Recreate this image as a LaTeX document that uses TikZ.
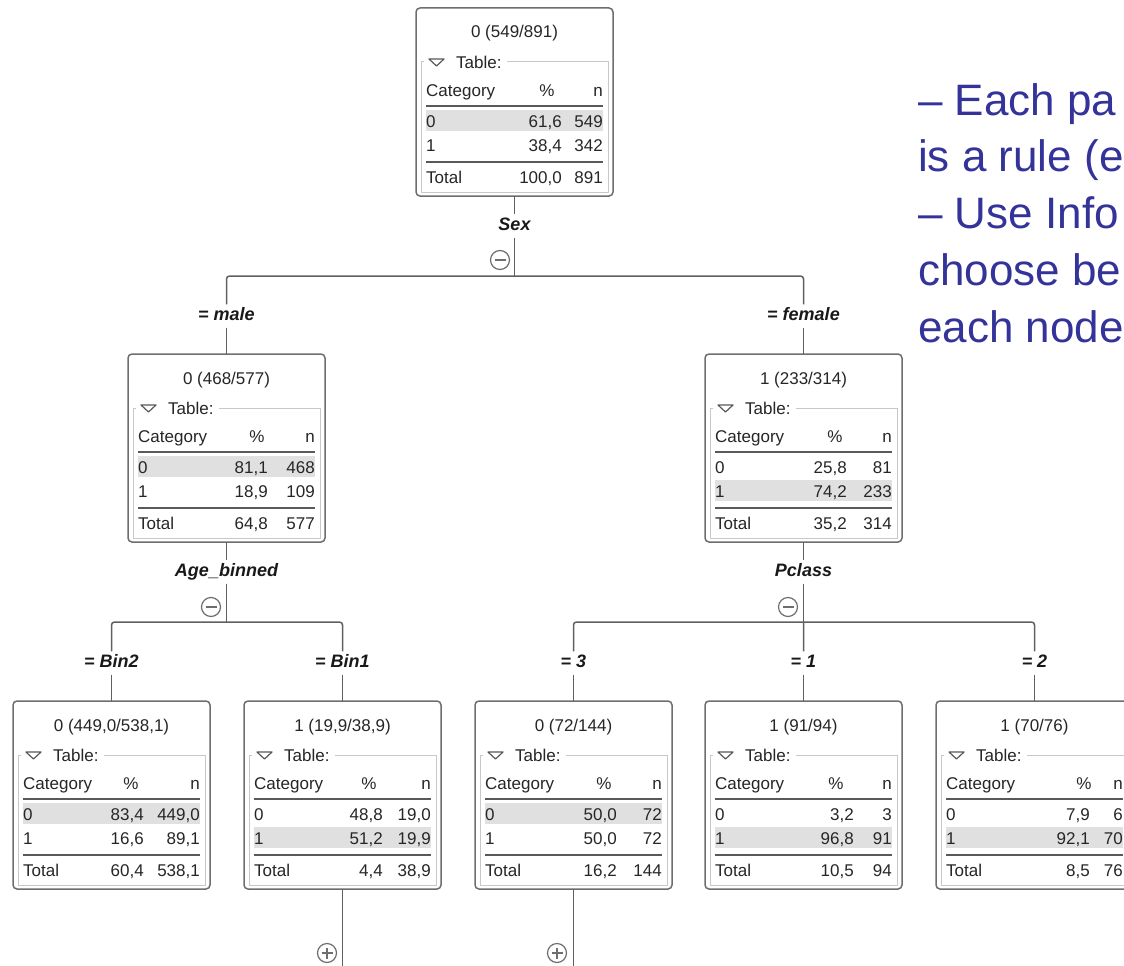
\documentclass[tikz,border=0pt]{standalone}
\usepackage{fontspec}
\setmainfont{Liberation Sans}

\definecolor{boxgray}{RGB}{110,110,110}
\definecolor{linegray}{RGB}{96,96,96}
\definecolor{framegray}{RGB}{200,200,200}
\definecolor{rowgray}{RGB}{224,224,224}
\definecolor{slideblue}{RGB}{51,51,153}

\newcommand{\cellfont}{\fontsize{17}{20}\selectfont}
\newcommand{\splitfont}{\fontsize{18}{21}\selectfont\bfseries\itshape}

% box, title and table head of one tree node
\newcommand{\dtnode}[5]{%
  \node[dtbox] (#1) at (#2+98.5,#3+94) {};
  \begin{scope}[shift={(#1.north west)}]
    \draw[groupframe] (5,54) rectangle (192,184);
    \fill[white] (8,45) rectangle (91,63);
    \draw[tabrule, line join=round] (13,51) -- (28,51) -- (20.5,58) -- cycle;
    \node[cell, anchor=base west] (#1-tab) at (40,60) {Table:};
    \node[cell, anchor=base] (#1-title) at (98.5,30) {#4};
    \node[cell, anchor=base west] (#1-cat) at (10,88) {Category};
    \node[cell, anchor=base] (#1-pct) at (#5,88) {\%};
    \node[cell, anchor=base east] (#1-n) at (187,88) {n};
    \draw[tabrule] (10,98) -- (187,98) (10,154) -- (187,154);
  \end{scope}}

% the three rows of the table
\newcommand{\dtrows}[9]{%
  \begin{scope}[shift={(#1.north west)}]
    \fill[rowgray] (10,102+24*#2) rectangle (187,123+24*#2);
    \node[cell, anchor=base west] (#1-c0) at (10,119) {0};
    \node[cell, anchor=base east] (#1-p0) at (#3,119) {#4};
    \node[cell, anchor=base east] (#1-n0) at (187,119) {#5};
    \node[cell, anchor=base west] (#1-c1) at (10,143) {1};
    \node[cell, anchor=base east] (#1-p1) at (#3,143) {#6};
    \node[cell, anchor=base east] (#1-n1) at (187,143) {#7};
    \node[cell, anchor=base west] (#1-ct) at (10,175) {Total};
    \node[cell, anchor=base east] (#1-pt) at (#3,175) {#8};
    \node[cell, anchor=base east] (#1-nt) at (187,175) {#9};
  \end{scope}}

\begin{document}
\begin{tikzpicture}[x=1pt, y={(0pt,-1pt)},
    dtbox/.style={draw=boxgray, line width=1.5pt, rounded corners=4pt, fill=white,
      minimum width=197pt, minimum height=188pt, inner sep=0pt, outer sep=0pt},
    groupframe/.style={draw=framegray, line width=1pt},
    tabrule/.style={draw=black!65, line width=1.2pt},
    cell/.style={inner sep=0pt, font=\cellfont, text=black!85},
    branch/.style={draw=linegray, line width=1.5pt, rounded corners=3pt},
    splitlab/.style={font=\splitfont, text=black!90, inner xsep=2pt, inner ysep=3pt,
      text height=13pt, text depth=4pt},
    togglemark/.style={circle, draw=boxgray, line width=1.2pt, minimum size=19pt, inner sep=0pt},
    minusmark/.style={togglemark, path picture={
      \draw[boxgray, line width=1.2pt] ([xshift=-5.5pt]path picture bounding box.center)
        -- ([xshift=5.5pt]path picture bounding box.center);}},
    plusmark/.style={togglemark, path picture={
      \draw[boxgray, line width=1.2pt] ([xshift=-5.5pt]path picture bounding box.center)
        -- ([xshift=5.5pt]path picture bounding box.center)
        ([yshift=-5.5pt]path picture bounding box.center)
        -- ([yshift=5.5pt]path picture bounding box.center);}}]
    \useasboundingbox (0,0) rectangle (1124,966);

    % Root
    \dtnode{root}{416}{8}{0 (549/891)}{131}
    \dtrows{root}{0}{146}{61,6}{549}{38,4}{342}{100,0}{891}

    % Sex = male
    \dtnode{male}{128}{354}{0 (468/577)}{129}
    \dtrows{male}{0}{140}{81,1}{468}{18,9}{109}{64,8}{577}

    % Sex = female
    \dtnode{female}{705}{354}{1 (233/314)}{130}
    \dtrows{female}{1}{142}{25,8}{81}{74,2}{233}{35,2}{314}

    % Age_binned leaves
    \dtnode{bin2}{13}{701}{0 (449,0/538,1)}{118}
    \dtrows{bin2}{0}{131}{83,4}{449,0}{16,6}{89,1}{60,4}{538,1}
    \dtnode{bin1}{244}{701}{1 (19,9/38,9)}{125}
    \dtrows{bin1}{1}{139}{48,8}{19,0}{51,2}{19,9}{4,4}{38,9}

    % Pclass leaves
    \dtnode{pc3}{475}{701}{0 (72/144)}{129}
    \dtrows{pc3}{0}{142}{50,0}{72}{50,0}{72}{16,2}{144}
    \dtnode{pc1}{705}{701}{1 (91/94)}{131}
    \dtrows{pc1}{1}{149}{3,2}{3}{96,8}{91}{10,5}{94}
    \dtnode{pc2}{936}{701}{1 (70/76)}{148}
    \dtrows{pc2}{1}{154}{7,9}{6}{92,1}{70}{8,5}{76}

    % Split on Sex
    \node[splitlab] (sexlab) at (514.5,226) {Sex};
    \node[minusmark] (sexmark) at (500,260) {};
    \coordinate (sexsplit) at (514.5,276);
    \node[splitlab] (malelab) at (226.5,316) {= male};
    \node[splitlab] (femalelab) at (803.5,316) {= female};
    \draw[branch] (root) -- (sexlab) -- (sexsplit);
    \draw[branch] (sexsplit) -| (malelab) (sexsplit) -| (femalelab);
    \draw[branch] (malelab) -- (male);
    \draw[branch] (femalelab) -- (female);

    % Split on Age_binned
    \node[splitlab] (agelab) at (226.5,572) {Age\_binned};
    \node[minusmark] (agemark) at (211,607) {};
    \coordinate (agesplit) at (226.5,622);
    \node[splitlab] (bin2lab) at (111.5,663) {= Bin2};
    \node[splitlab] (bin1lab) at (342.5,663) {= Bin1};
    \draw[branch] (male) -- (agelab) -- (agesplit);
    \draw[branch] (agesplit) -| (bin2lab) (agesplit) -| (bin1lab);
    \draw[branch] (bin2lab) -- (bin2);
    \draw[branch] (bin1lab) -- (bin1);

    % Split on Pclass
    \node[splitlab] (pclasslab) at (803.5,572) {Pclass};
    \node[minusmark] (pclassmark) at (788,607) {};
    \coordinate (pclasssplit) at (803.5,622);
    \node[splitlab] (pc3lab) at (573.5,663) {= 3};
    \node[splitlab] (pc1lab) at (803.5,663) {= 1};
    \node[splitlab] (pc2lab) at (1034.5,663) {= 2};
    \draw[branch] (female) -- (pclasslab) -- (pclasssplit);
    \draw[branch] (pclasssplit) -| (pc3lab) (pclasssplit) -- (pc1lab) (pclasssplit) -| (pc2lab);
    \draw[branch] (pc3lab) -- (pc3);
    \draw[branch] (pc1lab) -- (pc1);
    \draw[branch] (pc2lab) -- (pc2);

    % collapsed branches below
    \coordinate (bin1end) at (342.5,970);
    \coordinate (pc3end) at (573.5,970);
    \draw[branch] (bin1) -- (bin1end);
    \draw[branch] (pc3) -- (pc3end);
    \node[plusmark] (bin1mark) at (327,953) {};
    \node[plusmark] (pc3mark) at (557,953) {};

    % slide text (base of a multi-line node is its last line)
    \node[anchor=base west, align=left, inner sep=0pt, text=slideblue,
      font=\fontsize{44}{56.75}\selectfont] (notes) at (918,342)
      {– Each pa\\is a rule (e\\– Use Info\\choose be\\each node};
\end{tikzpicture}
\end{document}
